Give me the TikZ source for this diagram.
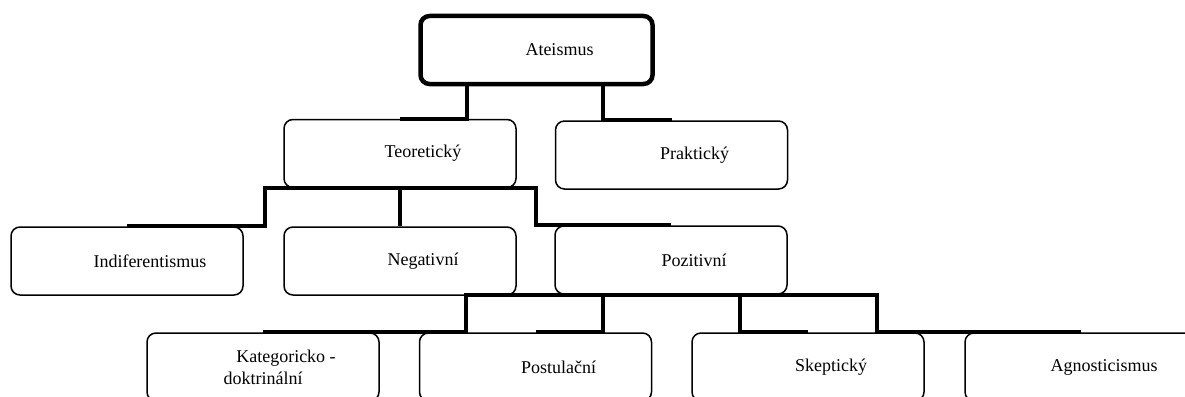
\documentclass[tikz,border=0pt]{standalone}
\usepackage{fontspec}
\setmainfont{Liberation Serif}
\newcommand{\firstind}{\hspace*{46pt}}
\tikzset{
  box/.style={draw, rounded corners=9pt, line width=1.5pt, minimum width=232pt,
    minimum height=68pt, align=center, font=\fontsize{18}{22}\selectfont},
  rootbox/.style={box, line width=4.5pt},
  conn/.style={line width=4pt}
}
\begin{document}
\begin{tikzpicture}[x=1pt,y=-1pt]
\clip (0,0) rectangle (1185,396);
\node[rootbox] (ate) at (536.5,50) {\firstind Ateismus};
\node[box] (teo) at (400,153.5) {\firstind Teoretický};
\node[box] (prak) at (671.5,155) {\firstind Praktický};
\node[box] (ind) at (127,261) {\firstind Indiferentismus};
\node[box] (neg) at (400,261) {\firstind Negativní};
\node[box] (poz) at (671,260) {\firstind Pozitivní};
\node[box] (kat) at (263,367) {\firstind Kategoricko -\\doktrinální};
\node[box] (pos) at (535.5,367) {\firstind Postulační};
\node[box] (skep) at (808,367) {\firstind Skeptický};
\node[box] (agn) at (1081,367) {\firstind Agnosticismus};
\draw[conn] ([xshift=-70pt]ate.south) |- (teo.north);
\draw[conn] ([xshift=66pt]ate.south) |- (prak.north);
\draw[conn] (teo.south) -- ++(-135,0) |- (ind.north);
\draw[conn] (teo.south) -- (neg.north);
\draw[conn] (teo.south) -- ++(136,0) |- (poz.north);
\draw[conn] (poz.south) -- ++(-205,0) |- (kat.north);
\draw[conn] (poz.south) -- ++(-68,0) |- (pos.north);
\draw[conn] (poz.south) -- ++(69,0) |- (skep.north);
\draw[conn] (poz.south) -- ++(206,0) |- (agn.north);
\end{tikzpicture}
\end{document}
